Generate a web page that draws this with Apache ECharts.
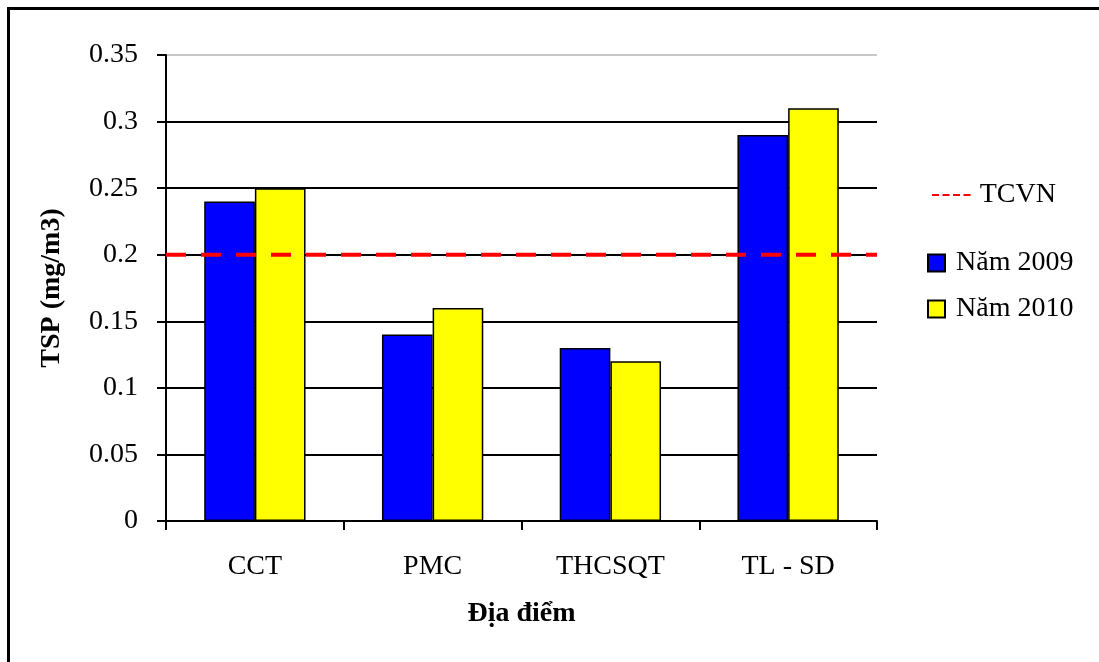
<!DOCTYPE html>
<html>
<head>
<meta charset="utf-8">
<script src="https://cdn.jsdelivr.net/npm/echarts@6/dist/echarts.min.js"></script>
<style>
  html, body { margin: 0; padding: 0; background: #fff; }
  #chart { width: 1099px; height: 662px; }
</style>
</head>
<body>
<div id="chart"></div>
<script>
// Monitoring sites and TSP concentrations (mg/m3)
const categories = ['CCT', 'PMC', 'THCSQT', 'TL - SD'];
const tsp2009 = [0.24, 0.14, 0.13, 0.29];
const tsp2010 = [0.25, 0.16, 0.12, 0.31];
// National standard limit (TCVN), drawn across the full plot width
const tcvnLimit = [[0, 0.2], [1, 0.2]];

const serif = 'Liberation Serif, Times New Roman, serif';
const fontSize = 28;
const chart = echarts.init(document.getElementById('chart'));

// Horizontal grid lines: black, with the top one in light grey
const gridColors = ['#000', '#000', '#000', '#000', '#000', '#000', '#000', '#c8c8c8'];

chart.setOption({
  backgroundColor: '#fff',
  animation: false,
  grid: { left: 166, right: 222, top: 55, bottom: 141 },
  graphic: [{
    type: 'rect',
    shape: { x: 8.5, y: 8.5, width: 1200, height: 800 },
    style: { fill: 'none', stroke: '#000', lineWidth: 3 },
    silent: true
  }],
  legend: [{
    left: 927, top: 176,
    data: [{ name: 'TCVN', itemStyle: { color: '#ff0000' } }],
    icon: 'path://M0,0h7v2h-7z M10.5,0h7v2h-7z M21,0h7v2h-7z M31.5,0h7v2h-7z',
    itemWidth: 39, itemHeight: 2,
    textStyle: { fontFamily: serif, fontSize: fontSize, color: '#000', padding: [0, 0, 0, 4] }
  }, {
    left: 922, top: 244,
    orient: 'vertical',
    data: ['Năm 2009', 'Năm 2010'],
    icon: 'rect',
    itemWidth: 17, itemHeight: 17,
    itemGap: 18,
    textStyle: { fontFamily: serif, fontSize: fontSize, color: '#000', padding: [0, 0, 0, 6] }
  }],
  xAxis: [{
    type: 'category',
    data: categories,
    name: 'Địa điểm',
    nameLocation: 'middle',
    nameGap: 79,
    nameTextStyle: { fontFamily: serif, fontSize: fontSize, fontWeight: 'bold', color: '#000' },
    axisLine: { lineStyle: { color: '#000', width: 2 } },
    axisTick: { show: true, length: 9, lineStyle: { color: '#000', width: 2 } },
    axisLabel: { fontFamily: serif, fontSize: fontSize, color: '#000', margin: 32 }
  }, {
    type: 'value', min: 0, max: 1, show: false
  }],
  yAxis: {
    type: 'value',
    min: 0, max: 0.35, interval: 0.05,
    name: 'TSP (mg/m3)',
    nameLocation: 'middle',
    nameGap: 100,
    nameRotate: 90,
    nameTextStyle: { fontFamily: serif, fontSize: fontSize, fontWeight: 'bold', color: '#000' },
    axisLine: { show: true, lineStyle: { color: '#000', width: 2 } },
    axisTick: { show: true, length: 9, lineStyle: { color: '#000', width: 2 } },
    axisLabel: { fontFamily: serif, fontSize: fontSize, color: '#000', margin: 28 },
    splitLine: { show: true, lineStyle: { color: gridColors, width: 2 } }
  },
  series: [{
    name: 'Năm 2009',
    type: 'bar',
    data: tsp2009,
    barGap: '0%',
    barCategoryGap: '43%',
    itemStyle: { color: '#0000ff', borderColor: '#000', borderWidth: 1.5 }
  }, {
    name: 'Năm 2010',
    type: 'bar',
    data: tsp2010,
    barGap: '0%',
    barCategoryGap: '43%',
    itemStyle: { color: '#ffff00', borderColor: '#000', borderWidth: 1.5 }
  }, {
    name: 'TCVN',
    type: 'line',
    xAxisIndex: 1,
    data: tcvnLimit,
    showSymbol: false,
    symbol: 'none',
    z: 5,
    itemStyle: { color: '#ff0000' },
    lineStyle: { color: '#ff0000', width: 4, type: [20, 15] }
  }]
});
</script>
</body>
</html>
